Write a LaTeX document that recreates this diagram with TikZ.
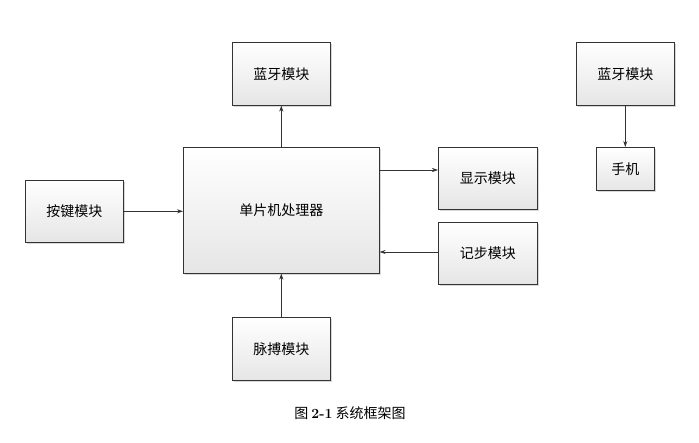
\documentclass[tikz,border=0pt]{standalone}
\usepackage{fontspec}
\newfontfamily\cjk{Noto Sans CJK SC}
\usetikzlibrary{arrows.meta,shadows}
\begin{document}
\begin{tikzpicture}[x=1pt,y=-1pt,
 box/.style={draw=black!80,line width=0.6pt,top color=white,bottom color=black!10,drop shadow={shadow xshift=1.5pt,shadow yshift=-1.5pt,opacity=0.3}},
 lbl/.style={font=\cjk\fontsize{14}{16}\selectfont},
 arr/.style={-{Stealth[length=6pt,width=4pt]},line width=0.6pt,black!80}]
\useasboundingbox (0,0) rectangle (699,442);
\fill[white] (0,0) rectangle (699,442);
\newcommand\bx[5]{\node[box,minimum width=#4-#2,minimum height=#5-#3,anchor=north west] (#1) at (#2,#3) {};}
\bx{bt}{232}{42}{330}{105}
\bx{mcu}{183}{147}{379}{273}
\bx{disp}{438}{147}{537}{209}
\bx{step}{438}{222}{537}{284}
\bx{key}{25}{180}{123}{242}
\bx{pulse}{232}{317}{330}{380}
\bx{bt2}{576}{42}{674}{105}
\bx{phone}{596}{147}{654}{190}
\node[lbl] at (bt) {蓝牙模块};
\node[lbl] at (mcu) {单片机处理器};
\node[lbl] at (disp) {显示模块};
\node[lbl] at (step) {记步模块};
\node[lbl] at (key) {按键模块};
\node[lbl] at (pulse) {脉搏模块};
\node[lbl] at (bt2) {蓝牙模块};
\node[lbl] at (phone) {手机};
\draw[arr] (key.east) -- (mcu.west|-key.east);
\draw[arr] (mcu.north) -- (bt.south);
\draw[arr] (pulse.north) -- (mcu.south);
\draw[arr] (mcu.east|-0,170) -- (disp.west|-0,170);
\draw[arr] (step.west|-0,252) -- (mcu.east|-0,252);
\draw[arr] (bt2.south-|phone.north) -- (phone.north);
\node (cap) at (350,413) {\cjk\fontsize{14}{16}\selectfont 图 \textbf{\rmfamily 2-1} 系统框架图};
\end{tikzpicture}
\end{document}
